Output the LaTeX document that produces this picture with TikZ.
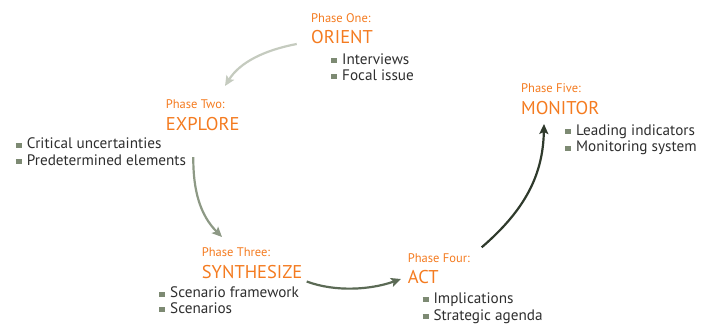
\documentclass[tikz,border=0pt]{standalone}
\usepackage{fontspec}
\setmainfont{PT Sans}
\usetikzlibrary{arrows.meta}
\definecolor{orng}{HTML}{F47B20}
\definecolor{bul}{HTML}{7D8A73}
\definecolor{txt}{HTML}{2E2E2E}
\definecolor{arA}{HTML}{C5CBBF}
\definecolor{arB}{HTML}{8D9985}
\definecolor{arC}{HTML}{5B6A55}
\definecolor{arD}{HTML}{2F3A2C}
\tikzset{
  phase/.style={anchor=base west,inner sep=0pt,text=orng,font=\fontsize{12.5}{13}\selectfont},
  title/.style={anchor=base west,inner sep=0pt,text=orng,font=\fontsize{18.5}{20}\selectfont},
  item/.style={anchor=base west,inner sep=0pt,text=txt,font=\fontsize{15.2}{16}\selectfont},
  flow/.style={line width=2.2pt,-{Stealth[length=10pt,width=9pt,inset=2pt]}}
}
\newcommand{\bsq}{\textcolor{bul}{\rule[1.2pt]{6pt}{5pt}}\hspace{5pt}}
\begin{document}
\begin{tikzpicture}[x=1pt,y=-1pt]
\useasboundingbox (0,0) rectangle (708,324);
% Phase One
\node[phase] (p1) at (311,22.3) {Phase One:};
\node[title] (t1) at (311,43.3) {ORIENT};
\node[item] (i11) at (331,64) {\bsq Interviews};
\node[item] (i12) at (331,80) {\bsq Focal issue};
% Phase Two
\node[phase] (p2) at (165.7,108.3) {Phase Two:};
\node[title] (t2) at (165.7,130) {EXPLORE};
\node[item] (i21) at (15.7,148.8) {\bsq Critical uncertainties};
\node[item] (i22) at (15.7,165) {\bsq Predetermined elements};
% Phase Three
\node[phase] (p3) at (201.7,256.7) {Phase Three:};
\node[title] (t3) at (201.7,278) {SYNTHESIZE};
\node[item] (i31) at (159,297.7) {\bsq Scenario framework};
\node[item] (i32) at (159,313.5) {\bsq Scenarios};
% Phase Four
\node[phase] (p4) at (407.7,262.3) {Phase Four:};
\node[title] (t4) at (407.7,283.3) {ACT};
\node[item] (i41) at (422.3,303.3) {\bsq Implications};
\node[item] (i42) at (422.3,320) {\bsq Strategic agenda};
% Phase Five
\node[phase] (p5) at (521,92.3) {Phase Five:};
\node[title] (t5) at (521,114.3) {MONITOR};
\node[item] (i51) at (565,135) {\bsq Leading indicators};
\node[item] (i52) at (565,151.7) {\bsq Monitoring system};
% connector ends
\coordinate (a1s) at (296.7,44);
\coordinate (a1e) at (225,86);
\coordinate (a2s) at (193.3,157);
\coordinate (a2e) at (222,237);
\coordinate (a3s) at (306.7,281.5);
\coordinate (a3e) at (401,279);
\coordinate (a4s) at (481.7,247.3);
\coordinate (a4e) at (544,124);
\draw[flow,arA] (a1s) .. controls (265,50) and (240,62) .. (a1e);
\draw[flow,arB] (a2s) .. controls (193,190) and (200,215) .. (a2e);
\draw[flow,arC] (a3s) .. controls (335,292) and (370,290) .. (a3e);
\draw[flow,arD] (a4s) .. controls (525,210) and (543,175) .. (a4e);
\end{tikzpicture}
\end{document}
